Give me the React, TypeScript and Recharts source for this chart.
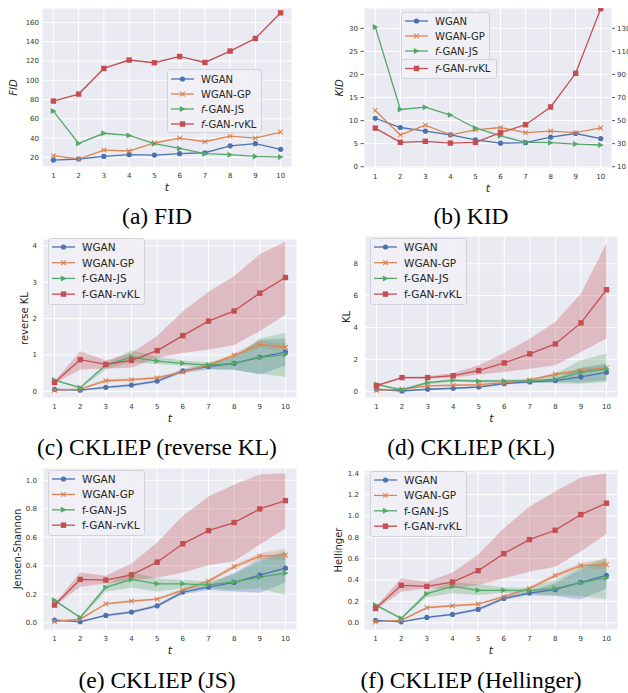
import React from "react";
import { ComposedChart, Line, Area, XAxis, YAxis, CartesianGrid, Label } from "recharts";

const steps = [1, 2, 3, 4, 5, 6, 7, 8, 9, 10];

// (a) FID
const fidWgan = [17.2, 18.3, 21, 22.8, 22.4, 23.8, 24.8, 32, 34.2, 28.3];
const fidWganGp = [21.7, 18.3, 27.6, 26.6, 34.9, 40, 36.2, 42, 40, 46.3];
const fidJs = [68, 34.5, 45, 42.8, 34.2, 29.3, 23.8, 22.8, 21, 20.3];
const fidRvkl = [78.4, 85.7, 112.3, 121, 118.2, 124.7, 118.5, 130.3, 143.4, 170];

// (b) KID  (rvKL on the right axis)
const kidWgan = [10.5, 8.5, 7.7, 6.9, 5.8, 5.1, 5.2, 6.4, 7.2, 6.1];
const kidWganGp = [12.2, 6.9, 9.0, 6.9, 8.0, 8.5, 7.4, 7.7, 7.4, 8.4];
const kidJs = [30.3, 12.4, 12.9, 11.2, 8.4, 6.7, 5.3, 5.2, 4.9, 4.7];
const kidRvkl = [43.5, 31.1, 32, 30.5, 31.1, 39.5, 46.4, 61.8, 91, 147];

// (c) reverse KL
const rklWgan = [0.05, 0.03, 0.11, 0.17, 0.28, 0.56, 0.68, 0.77, 0.94, 1.08];
const rklWganLo = [0.02, 0.01, 0.08, 0.13, 0.24, 0.5, 0.6, 0.6, 0.46, 0.7];
const rklWganHi = [0.08, 0.05, 0.14, 0.21, 0.32, 0.62, 0.76, 0.95, 1.42, 1.45];
const rklGp = [0.03, 0.06, 0.29, 0.32, 0.37, 0.53, 0.72, 0.99, 1.29, 1.21];
const rklGpLo = [0.01, 0.03, 0.25, 0.28, 0.33, 0.49, 0.68, 0.93, 1.2, 1.12];
const rklGpHi = [0.05, 0.09, 0.33, 0.36, 0.41, 0.57, 0.76, 1.05, 1.38, 1.32];
const rklJs = [0.31, 0.1, 0.72, 0.94, 0.83, 0.77, 0.72, 0.77, 0.93, 1.01];
const rklJsLo = [0.28, 0.07, 0.6, 0.8, 0.75, 0.7, 0.62, 0.58, 0.49, 0.39];
const rklJsHi = [0.34, 0.12, 0.78, 1.13, 0.95, 0.85, 0.8, 0.95, 1.45, 1.61];
const rklRv = [0.24, 0.87, 0.74, 0.85, 1.12, 1.53, 1.93, 2.21, 2.7, 3.13];
const rklRvLo = [0.21, 0.6, 0.63, 0.65, 0.92, 1.05, 1.15, 1.27, 1.66, 2.1];
const rklRvHi = [0.28, 1.1, 0.85, 1.05, 1.52, 2.2, 2.74, 3.17, 3.77, 4.12];

// (d) KL
const klWgan = [0.13, 0.02, 0.13, 0.19, 0.27, 0.48, 0.59, 0.67, 0.9, 1.19];
const klWganLo = [0.08, 0.0, 0.09, 0.15, 0.22, 0.42, 0.52, 0.58, 0.55, 0.69];
const klWganHi = [0.18, 0.05, 0.17, 0.23, 0.32, 0.54, 0.66, 0.8, 1.5, 1.74];
const klGp = [0.06, 0.13, 0.34, 0.38, 0.42, 0.54, 0.71, 1.07, 1.3, 1.47];
const klGpLo = [0.03, 0.09, 0.29, 0.33, 0.37, 0.48, 0.65, 0.98, 1.2, 1.35];
const klGpHi = [0.09, 0.17, 0.39, 0.43, 0.47, 0.6, 0.77, 1.15, 1.42, 1.6];
const klJs = [0.42, 0.1, 0.54, 0.69, 0.63, 0.65, 0.65, 0.77, 1.19, 1.4];
const klJsLo = [0.36, 0.06, 0.45, 0.6, 0.55, 0.57, 0.55, 0.5, 0.48, 0.59];
const klJsHi = [0.48, 0.14, 0.63, 0.78, 0.72, 0.73, 0.75, 1.1, 1.95, 2.37];
const klRv = [0.36, 0.86, 0.86, 0.98, 1.3, 1.78, 2.35, 2.97, 4.29, 6.37];
const klRvLo = [0.3, 0.8, 0.78, 0.85, 1.05, 1.21, 1.42, 1.63, 2.47, 3.31];
const klRvHi = [0.42, 0.92, 0.95, 1.15, 1.63, 2.41, 3.3, 4.36, 6.14, 9.28];

// (e) Jensen-Shannon
const jsWgan = [0.019, 0.007, 0.051, 0.075, 0.119, 0.215, 0.25, 0.283, 0.334, 0.383];
const jsWganLo = [0.012, 0.003, 0.043, 0.066, 0.108, 0.2, 0.23, 0.22, 0.21, 0.28];
const jsWganHi = [0.026, 0.011, 0.059, 0.084, 0.13, 0.23, 0.27, 0.35, 0.45, 0.5];
const jsGp = [0.009, 0.026, 0.133, 0.152, 0.166, 0.229, 0.292, 0.393, 0.467, 0.474];
const jsGpLo = [0.005, 0.02, 0.125, 0.144, 0.158, 0.219, 0.28, 0.378, 0.448, 0.44];
const jsGpHi = [0.013, 0.032, 0.141, 0.16, 0.174, 0.239, 0.304, 0.408, 0.487, 0.52];
const jsJs = [0.157, 0.037, 0.248, 0.304, 0.273, 0.273, 0.266, 0.287, 0.32, 0.348];
const jsJsLo = [0.15, 0.03, 0.22, 0.245, 0.22, 0.24, 0.24, 0.23, 0.24, 0.194];
const jsJsHi = [0.165, 0.045, 0.27, 0.357, 0.31, 0.3, 0.29, 0.34, 0.43, 0.5];
const jsRv = [0.124, 0.304, 0.299, 0.336, 0.425, 0.554, 0.647, 0.703, 0.799, 0.857];
const jsRvLo = [0.115, 0.252, 0.276, 0.299, 0.315, 0.353, 0.404, 0.432, 0.549, 0.661];
const jsRvHi = [0.135, 0.353, 0.33, 0.416, 0.563, 0.75, 0.886, 0.97, 1.04, 1.05];

// (f) Hellinger
const hWgan = [0.022, 0.009, 0.05, 0.078, 0.125, 0.228, 0.278, 0.309, 0.378, 0.444];
const hWganLo = [0.014, 0.004, 0.042, 0.068, 0.113, 0.212, 0.26, 0.25, 0.22, 0.32];
const hWganHi = [0.03, 0.014, 0.058, 0.088, 0.137, 0.244, 0.3, 0.37, 0.5, 0.58];
const hGp = [0.009, 0.022, 0.141, 0.159, 0.175, 0.244, 0.322, 0.441, 0.534, 0.544];
const hGpLo = [0.005, 0.015, 0.131, 0.149, 0.165, 0.232, 0.308, 0.42, 0.51, 0.5];
const hGpHi = [0.013, 0.029, 0.151, 0.169, 0.185, 0.256, 0.336, 0.46, 0.56, 0.6];
const hJs = [0.166, 0.041, 0.272, 0.34, 0.303, 0.303, 0.3, 0.322, 0.375, 0.419];
const hJsLo = [0.155, 0.03, 0.24, 0.275, 0.26, 0.28, 0.27, 0.26, 0.25, 0.22];
const hJsHi = [0.18, 0.05, 0.3, 0.38, 0.36, 0.33, 0.33, 0.4, 0.52, 0.61];
const hRv = [0.134, 0.35, 0.34, 0.381, 0.4875, 0.647, 0.778, 0.866, 1.0125, 1.119];
const hRvLo = [0.12, 0.29, 0.32, 0.32, 0.353, 0.416, 0.478, 0.525, 0.666, 0.831];
const hRvHi = [0.15, 0.416, 0.384, 0.47, 0.64, 0.884, 1.0875, 1.228, 1.36, 1.4];

const fidTicks = [20, 40, 60, 80, 100, 120, 140, 160];
const kidTicks = [0, 5, 10, 15, 20, 25, 30];
const kidRightTicks = [10, 30, 50, 70, 90, 110, 130];
const rklTicks = [0, 1, 2, 3, 4];
const klTicks = [0, 2, 4, 6, 8];
const jsTicks = [0, 0.2, 0.4, 0.6, 0.8, 1.0];
const hTicks = [0, 0.2, 0.4, 0.6, 0.8, 1.0, 1.2, 1.4];

const BLUE = "#4C72B0";
const ORANGE = "#DD8452";
const GREEN = "#55A868";
const RED = "#C44E52";
const BG = "#EAEAF2";
const FONT = "'DejaVu Sans', sans-serif";
const SERIF = "'Liberation Serif', 'DejaVu Serif', serif";

type Marker = "o" | "x" | ">" | "s";

interface Series {
  key: string;
  name: string;
  color: string;
  marker: Marker;
  mean: number[];
  lo?: number[];
  hi?: number[];
  right?: boolean;
}

function drawMarker(m: Marker, cx: number, cy: number, color: string, key: any) {
  if (m === "o") return <circle key={key} cx={cx} cy={cy} r={2.6} fill={color} />;
  if (m === "s") return <rect key={key} x={cx - 2.7} y={cy - 2.7} width={5.4} height={5.4} fill={color} />;
  if (m === ">")
    return <polygon key={key} points={`${cx + 3.1},${cy} ${cx - 2.6},${cy - 3} ${cx - 2.6},${cy + 3}`} fill={color} />;
  return (
    <path
      key={key}
      d={`M${cx - 2.3},${cy - 2.3}L${cx + 2.3},${cy + 2.3}M${cx - 2.3},${cy + 2.3}L${cx + 2.3},${cy - 2.3}`}
      stroke={color}
      strokeWidth={1.1}
    />
  );
}

const makeDot = (m: Marker, color: string) => (p: any) => {
  if (p.cx == null || p.cy == null) return <g key={p.index} />;
  return drawMarker(m, p.cx, p.cy, color, p.index);
};

function buildRows(series: Series[]) {
  return steps.map((t, i) => {
    const row: any = { t };
    series.forEach((s) => {
      row[s.key] = s.mean[i];
      if (s.lo && s.hi) row[s.key + "Band"] = [s.lo[i], s.hi[i]];
    });
    return row;
  });
}

const tickStyle = { fontSize: 7, fill: "#333", fontFamily: FONT };

interface PanelProps {
  left: number;
  top: number;
  width: number;
  height: number;
  margin: { top: number; right: number; bottom: number; left: number };
  yWidth: number;
  rightWidth?: number;
  xHeight: number;
  yDomain: [number, number];
  yTicks: number[];
  yFmt?: (v: number) => string;
  rightDomain?: [number, number];
  rightTicks?: number[];
  yTickGap: number;
  tickMarks?: boolean;
  yLabel: string;
  yLabelX: number;
  italicLabel?: boolean;
  series: Series[];
}

function Panel(p: PanelProps) {
  const rows = buildRows(p.series);
  const yLabelContent = (props: any) => {
    const vb = props.viewBox;
    const x = vb.x + p.yLabelX;
    const y = vb.y + vb.height / 2;
    return (
      <text
        x={x}
        y={y}
        transform={`rotate(-90 ${x} ${y})`}
        textAnchor="middle"
        dominantBaseline="central"
        fontSize={10}
        fontFamily={FONT}
        fontStyle={p.italicLabel ? "italic" : "normal"}
        fill="#262626"
      >
        {p.yLabel}
      </text>
    );
  };
  const xLabelContent = (props: any) => {
    const vb = props.viewBox;
    return (
      <text
        x={vb.x + vb.width / 2}
        y={vb.y + 23.5}
        textAnchor="middle"
        fontSize={11}
        fontFamily={FONT}
        fontStyle="italic"
        fill="#262626"
      >
        t
      </text>
    );
  };
  return (
    <div style={{ position: "absolute", left: p.left, top: p.top }}>
      <ComposedChart width={p.width} height={p.height} margin={p.margin} data={rows}>
        <CartesianGrid yAxisId="left" stroke="#fff" strokeWidth={1} fill={BG} />
        <XAxis
          dataKey="t"
          type="number"
          domain={[0.55, 10.45]}
          ticks={steps}
          interval={0}
          allowDataOverflow
          axisLine={false}
          tickLine={false}
          tickSize={4}
          tickMargin={2}
          height={p.xHeight}
          tick={tickStyle}
        >
          <Label content={xLabelContent} />
        </XAxis>
        <YAxis
          yAxisId="left"
          type="number"
          domain={p.yDomain}
          ticks={p.yTicks}
          interval={0}
          allowDataOverflow
          axisLine={false}
          tickLine={p.tickMarks ? { stroke: "#333", strokeWidth: 0.8 } : false}
          tickSize={p.tickMarks ? 3.5 : 1}
          tickMargin={p.tickMarks ? 2.5 : p.yTickGap - 1}
          tickFormatter={p.yFmt}
          width={p.yWidth}
          tick={tickStyle}
        >
          <Label content={yLabelContent} />
        </YAxis>
        {p.rightDomain && (
          <YAxis
            yAxisId="right"
            orientation="right"
            type="number"
            domain={p.rightDomain}
            ticks={p.rightTicks}
            interval={0}
            allowDataOverflow
            axisLine={false}
            tickLine={{ stroke: "#333", strokeWidth: 0.8 }}
            tickSize={3}
            tickMargin={2}
            width={p.rightWidth}
            tick={{ ...tickStyle, textAnchor: "start" }}
          />
        )}
        {p.series
          .filter((s) => s.lo && s.hi)
          .map((s) => (
            <Area
              key={s.key + "Band"}
              yAxisId="left"
              dataKey={s.key + "Band"}
              type="linear"
              stroke="none"
              fill={s.color}
              fillOpacity={0.3}
              dot={false}
              activeDot={false}
              legendType="none"
              isAnimationActive={false}
            />
          ))}
        {p.series.map((s) => (
          <Line
            key={s.key}
            yAxisId={s.right ? "right" : "left"}
            dataKey={s.key}
            type="linear"
            stroke={s.color}
            strokeWidth={1.3}
            dot={makeDot(s.marker, s.color)}
            activeDot={false}
            isAnimationActive={false}
          />
        ))}
      </ComposedChart>
    </div>
  );
}

function LegendBox(props: {
  x: number;
  y: number;
  w: number;
  h: number;
  items: Series[];
  rowStart: number;
  rowStep: number;
  fontSize: number;
  italicF?: boolean;
}) {
  const { x, y, w, h, items, rowStart, rowStep, fontSize, italicF } = props;
  return (
    <svg style={{ position: "absolute", left: x, top: y }} width={w + 1} height={h + 1}>
      <rect x={0.5} y={0.5} width={w} height={h} rx={2.5} fill="#EFEFF5" fillOpacity={0.9} stroke="#D2D2DA" />
      {items.map((s, i) => {
        const cy = rowStart + i * rowStep;
        return (
          <g key={s.key}>
            <line x1={4} x2={27} y1={cy} y2={cy} stroke={s.color} strokeWidth={1.3} />
            {drawMarker(s.marker, 15.5, cy, s.color, "m")}
            <text x={34} y={cy} dominantBaseline="central" fontSize={fontSize} fontFamily={FONT} fill="#262626">
              {italicF && s.name.startsWith("f-") ? (
                <>
                  <tspan fontStyle="italic">f</tspan>
                  {s.name.slice(1)}
                </>
              ) : (
                s.name
              )}
            </text>
          </g>
        );
      })}
    </svg>
  );
}

function Caption({ text, top, left }: { text: string; top: number; left: number }) {
  return (
    <div
      style={{
        position: "absolute",
        left,
        top: top - 15,
        width: 314,
        height: 30,
        lineHeight: "30px",
        textAlign: "center",
        fontFamily: SERIF,
        fontSize: 23.5,
        color: "#000",
        whiteSpace: "nowrap",
      }}
    >
      {text}
    </div>
  );
}

const fidSeries: Series[] = [
  { key: "wgan", name: "WGAN", color: BLUE, marker: "o", mean: fidWgan },
  { key: "gp", name: "WGAN-GP", color: ORANGE, marker: "x", mean: fidWganGp },
  { key: "js", name: "f-GAN-JS", color: GREEN, marker: ">", mean: fidJs },
  { key: "rv", name: "f-GAN-rvKL", color: RED, marker: "s", mean: fidRvkl },
];
const kidSeries: Series[] = [
  { key: "wgan", name: "WGAN", color: BLUE, marker: "o", mean: kidWgan },
  { key: "gp", name: "WGAN-GP", color: ORANGE, marker: "x", mean: kidWganGp },
  { key: "js", name: "f-GAN-JS", color: GREEN, marker: ">", mean: kidJs },
  { key: "rv", name: "f-GAN-rvKL", color: RED, marker: "s", mean: kidRvkl, right: true },
];
const rklSeries: Series[] = [
  { key: "wgan", name: "WGAN", color: BLUE, marker: "o", mean: rklWgan, lo: rklWganLo, hi: rklWganHi },
  { key: "gp", name: "WGAN-GP", color: ORANGE, marker: "x", mean: rklGp, lo: rklGpLo, hi: rklGpHi },
  { key: "js", name: "f-GAN-JS", color: GREEN, marker: ">", mean: rklJs, lo: rklJsLo, hi: rklJsHi },
  { key: "rv", name: "f-GAN-rvKL", color: RED, marker: "s", mean: rklRv, lo: rklRvLo, hi: rklRvHi },
];
const klSeries: Series[] = [
  { key: "wgan", name: "WGAN", color: BLUE, marker: "o", mean: klWgan, lo: klWganLo, hi: klWganHi },
  { key: "gp", name: "WGAN-GP", color: ORANGE, marker: "x", mean: klGp, lo: klGpLo, hi: klGpHi },
  { key: "js", name: "f-GAN-JS", color: GREEN, marker: ">", mean: klJs, lo: klJsLo, hi: klJsHi },
  { key: "rv", name: "f-GAN-rvKL", color: RED, marker: "s", mean: klRv, lo: klRvLo, hi: klRvHi },
];
const jsSeries: Series[] = [
  { key: "wgan", name: "WGAN", color: BLUE, marker: "o", mean: jsWgan, lo: jsWganLo, hi: jsWganHi },
  { key: "gp", name: "WGAN-GP", color: ORANGE, marker: "x", mean: jsGp, lo: jsGpLo, hi: jsGpHi },
  { key: "js", name: "f-GAN-JS", color: GREEN, marker: ">", mean: jsJs, lo: jsJsLo, hi: jsJsHi },
  { key: "rv", name: "f-GAN-rvKL", color: RED, marker: "s", mean: jsRv, lo: jsRvLo, hi: jsRvHi },
];
const hSeries: Series[] = [
  { key: "wgan", name: "WGAN", color: BLUE, marker: "o", mean: hWgan, lo: hWganLo, hi: hWganHi },
  { key: "gp", name: "WGAN-GP", color: ORANGE, marker: "x", mean: hGp, lo: hGpLo, hi: hGpHi },
  { key: "js", name: "f-GAN-JS", color: GREEN, marker: ">", mean: hJs, lo: hJsLo, hi: hJsHi },
  { key: "rv", name: "f-GAN-rvKL", color: RED, marker: "s", mean: hRv, lo: hRvLo, hi: hRvHi },
];

const fmt1 = (v: number) => v.toFixed(1);

export default function App() {
  return (
    <div style={{ position: "absolute", left: 0, top: 0, width: 628, height: 693, background: "#fff", overflow: "hidden" }}>
      <Panel
        left={0}
        top={0}
        width={314}
        height={200}
        margin={{ top: 8, right: 22, bottom: 0, left: 0 }}
        yWidth={42}
        xHeight={33}
        yDomain={[10, 175]}
        yTicks={fidTicks}
        yTickGap={3}
        yLabel="FID"
        yLabelX={13}
        italicLabel
        series={fidSeries}
      />
      <Panel
        left={314}
        top={0}
        width={314}
        height={200}
        margin={{ top: 8, right: 0, bottom: 0, left: 0 }}
        yWidth={50}
        rightWidth={16}
        xHeight={32}
        yDomain={[-0.28, 34.4]}
        yTicks={kidTicks}
        rightDomain={[8.88, 147.6]}
        rightTicks={kidRightTicks}
        yTickGap={3}
        tickMarks
        yLabel="KID"
        yLabelX={25}
        italicLabel
        series={kidSeries}
      />
      <Panel
        left={0}
        top={225}
        width={314}
        height={200}
        margin={{ top: 14, right: 17, bottom: 0, left: 0 }}
        yWidth={43}
        xHeight={27}
        yDomain={[-0.185, 4.19]}
        yTicks={rklTicks}
        yTickGap={6}
        yLabel="reverse KL"
        yLabelX={24}
        series={rklSeries}
      />
      <Panel
        left={314}
        top={225}
        width={314}
        height={200}
        margin={{ top: 11, right: 10, bottom: 0, left: 0 }}
        yWidth={51}
        xHeight={27}
        yDomain={[-0.42, 9.74]}
        yTicks={klTicks}
        yTickGap={7}
        yLabel="KL"
        yLabelX={32}
        series={klSeries}
      />
      <Panel
        left={0}
        top={455}
        width={314}
        height={205}
        margin={{ top: 13, right: 17, bottom: 0, left: 0 }}
        yWidth={43}
        xHeight={30}
        yDomain={[-0.051, 1.086]}
        yTicks={jsTicks}
        yFmt={fmt1}
        yTickGap={6}
        yLabel="Jensen-Shannon"
        yLabelX={17}
        series={jsSeries}
      />
      <Panel
        left={314}
        top={455}
        width={314}
        height={205}
        margin={{ top: 15, right: 10, bottom: 0, left: 0 }}
        yWidth={50}
        xHeight={30}
        yDomain={[-0.068, 1.43]}
        yTicks={hTicks}
        yFmt={fmt1}
        yTickGap={5}
        yLabel="Hellinger"
        yLabelX={24}
        series={hSeries}
      />

      <LegendBox x={167} y={69} w={94} h={63} items={fidSeries} rowStart={10} rowStep={15} fontSize={10} italicF />
      <LegendBox x={401} y={12} w={88} h={52} items={kidSeries.slice(0, 3)} rowStart={9} rowStep={15} fontSize={10} italicF />
      <LegendBox x={401} y={59} w={95} h={19} items={kidSeries.slice(3)} rowStart={9.5} rowStep={15} fontSize={10} italicF />
      <LegendBox x={48} y={238} w={96} h={66} items={rklSeries} rowStart={9} rowStep={15.7} fontSize={10.5} />
      <LegendBox x={370} y={238} w={96} h={66} items={klSeries} rowStart={9} rowStep={15.7} fontSize={10.5} />
      <LegendBox x={48} y={470} w={96} h={65} items={jsSeries} rowStart={9} rowStep={15.4} fontSize={10.5} />
      <LegendBox x={370} y={471} w={96} h={65} items={hSeries} rowStart={9} rowStep={15.4} fontSize={10.5} />

      <Caption text="(a) FID" left={0} top={216} />
      <Caption text="(b) KID" left={314} top={216} />
      <Caption text="(c) CKLIEP (reverse KL)" left={0} top={447} />
      <Caption text="(d) CKLIEP (KL)" left={314} top={447} />
      <Caption text="(e) CKLIEP (JS)" left={0} top={680} />
      <Caption text="(f) CKLIEP (Hellinger)" left={314} top={680} />
    </div>
  );
}
